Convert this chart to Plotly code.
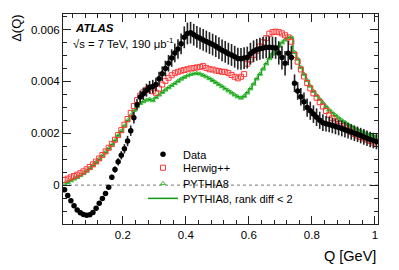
import plotly.graph_objects as go

# Bin centres (GeV)
q = [round(0.015 + 0.01 * k, 3) for k in range(100)]

data_y = [-0.00018, -0.0004, -0.0006, -0.0008, -0.00096, -0.00107, -0.00113, -0.00116, -0.00114, -0.00106,
          -0.00089, -0.0007, -0.00052, -0.00032, -0.00008, 0.0003, 0.0006, 0.0009, 0.00115, 0.0014,
          0.0017, 0.0021, 0.0026, 0.0031, 0.0034, 0.00352, 0.00366, 0.00377, 0.0038, 0.00388,
          0.0041, 0.0043, 0.0045, 0.0047, 0.0049, 0.0051, 0.00525, 0.00545, 0.0057, 0.00585,
          0.00588, 0.0058, 0.00572, 0.00566, 0.0056, 0.00554, 0.00548, 0.00542, 0.00536, 0.00528,
          0.0052, 0.00514, 0.00507, 0.00502, 0.00495, 0.00488, 0.00487, 0.0049, 0.00492, 0.00507,
          0.00516, 0.00522, 0.00526, 0.00529, 0.00531, 0.00532, 0.00531, 0.00529, 0.0051, 0.00492,
          0.0047, 0.00509, 0.00492, 0.00393, 0.00363, 0.00341, 0.00322, 0.00299, 0.00287, 0.00274,
          0.00262, 0.0025, 0.00241, 0.00237, 0.00234, 0.0023, 0.00226, 0.00222, 0.00218, 0.00214,
          0.0021, 0.00205, 0.002, 0.00196, 0.00191, 0.00186, 0.00181, 0.00176, 0.00172, 0.00168]

data_err = [0.00005] * 14 + [0.00008, 0.0001, 0.00012, 0.00014, 0.00016, 0.00018, 0.0002, 0.0002, 0.00022, 0.00022,
            0.00024, 0.00024, 0.00025, 0.00025, 0.00026, 0.00026, 0.00027, 0.00028, 0.0003, 0.00032,
            0.00034, 0.00036, 0.00038, 0.0004, 0.00042, 0.00042] + [0.00042] * 28 + \
           [0.00045, 0.00046, 0.00047, 0.00047, 0.00046, 0.00034, 0.00034, 0.00034, 0.00035, 0.00035,
            0.00035, 0.00034, 0.00034, 0.00033, 0.00032] + [0.0003] * 17

herwig_y = [0.0002, 0.00025, 0.0003, 0.00035, 0.0004, 0.00046, 0.00053, 0.00061, 0.0007, 0.0008,
            0.00091, 0.00103, 0.00116, 0.0013, 0.00144, 0.00159, 0.00175, 0.00193, 0.00212, 0.00233,
            0.00255, 0.00279, 0.00305, 0.00328, 0.00345, 0.00358, 0.00368, 0.00375, 0.00362, 0.00356,
            0.00372, 0.00388, 0.00402, 0.00414, 0.00424, 0.00432, 0.00437, 0.00441, 0.00444, 0.00447,
            0.0045, 0.00452, 0.00454, 0.00456, 0.00459, 0.00452, 0.00447, 0.00446, 0.00442, 0.0044,
            0.00437, 0.00437, 0.00432, 0.00425, 0.00418, 0.00412, 0.00418, 0.00428, 0.00468, 0.00484,
            0.00502, 0.00518, 0.00535, 0.00551, 0.00567, 0.00584, 0.0059, 0.00592, 0.0059, 0.00585,
            0.00578, 0.0057, 0.00553, 0.00502, 0.00476, 0.00446, 0.00419, 0.00394, 0.00373, 0.00354,
            0.00337, 0.0032, 0.00303, 0.00286, 0.00271, 0.00258, 0.00246, 0.00236, 0.00227, 0.00219,
            0.00211, 0.00204, 0.00197, 0.00191, 0.00185, 0.0018, 0.00175, 0.0017, 0.00164, 0.00158]

pythia_y = [0.00005, 0.0001, 0.00017, 0.00024, 0.0003, 0.00037, 0.00045, 0.00054, 0.00064, 0.00076,
            0.00088, 0.001, 0.00113, 0.00127, 0.00141, 0.00156, 0.00172, 0.0019, 0.00208, 0.00228,
            0.00248, 0.00268, 0.00288, 0.00303, 0.00315, 0.00322, 0.00328, 0.00331, 0.00326, 0.00338,
            0.00348, 0.00358, 0.00367, 0.00376, 0.00384, 0.00392, 0.00401, 0.00409, 0.00416, 0.00422,
            0.00427, 0.0043, 0.00431, 0.00429, 0.00424, 0.00418, 0.00411, 0.00404, 0.00396, 0.00388,
            0.0038, 0.00372, 0.00364, 0.00356, 0.00348, 0.00341, 0.00336, 0.00343, 0.00356, 0.00372,
            0.0039, 0.0041, 0.00428, 0.00448, 0.00468, 0.00488, 0.00506, 0.00522, 0.00536, 0.00549,
            0.0056, 0.00569, 0.0057, 0.00512, 0.00486, 0.00454, 0.00428, 0.00404, 0.00382, 0.00362,
            0.00346, 0.00331, 0.00317, 0.00303, 0.0029, 0.00279, 0.00269, 0.00259, 0.0025, 0.00242,
            0.00234, 0.00227, 0.0022, 0.00214, 0.00208, 0.00203, 0.00198, 0.00194, 0.0019, 0.00186]

x_ticks = [0.2, 0.4, 0.6, 0.8, 1.0]
x_tick_labels = ["0.2", "0.4", "0.6", "0.8", "1"]
y_ticks = [0, 0.002, 0.004, 0.006]
y_tick_labels = ["0", "0.002", "0.004", "0.006"]

FONT = "Liberation Sans, Arial, Helvetica, sans-serif"
RED = "#ff3838"
GREEN_LINE = "#119911"
GREEN_MK = "#33bb33"

fig = go.Figure()

fig.add_trace(go.Scatter(
    x=q, y=pythia_y, mode="lines", name="PYTHIA8, rank diff < 2", legend="legend4",
    line=dict(color=GREEN_LINE, width=1.5, shape="hvh")))
fig.add_trace(go.Scatter(
    x=q, y=pythia_y, mode="markers", name="PYTHIA8", legend="legend3",
    marker=dict(symbol="triangle-up-open", size=4.5, color=GREEN_MK, line=dict(width=1))))
fig.add_trace(go.Scatter(
    x=q, y=herwig_y, mode="markers", name="Herwig++", legend="legend2",
    marker=dict(symbol="square-open", size=5, color=RED, line=dict(width=1))))
fig.add_trace(go.Scatter(
    x=q, y=data_y, mode="markers", name="Data", legend="legend",
    marker=dict(symbol="circle", size=5.5, color="black"),
    error_y=dict(type="data", array=data_err, visible=True, thickness=1.6, width=0, color="#222222")))

# dotted zero line, interrupted behind the legend
fig.add_shape(type="line", xref="x", yref="y", x0=0.01, x1=1.01, y0=0, y1=0,
              line=dict(color="#777777", width=1, dash="dot"), layer="below")
fig.add_shape(type="rect", xref="paper", yref="paper", x0=0.276, x1=0.657, y0=0.12, y1=0.40,
              line=dict(width=0), fillcolor="white", layer="below")

axis_common = dict(showline=True, linecolor="#222222", linewidth=1, mirror="allticks",
                   ticks="inside", ticklen=8, tickwidth=1, tickcolor="#222222",
                   showgrid=False, zeroline=False,
                   tickfont=dict(family=FONT, size=11.5, color="black"))

fig.update_xaxes(range=[0.01, 1.01], tickvals=x_ticks, ticktext=x_tick_labels,
                 minor=dict(ticks="inside", ticklen=4, dtick=0.04, tick0=0, tickcolor="#222222"),
                 **axis_common)
fig.update_yaxes(range=[-0.0015, 0.0066], tickvals=y_ticks, ticktext=y_tick_labels,
                 minor=dict(ticks="inside", ticklen=4, dtick=0.0005, tick0=0, tickcolor="#222222"),
                 **axis_common)

fig.add_annotation(x=0.033, y=0.935, xref="paper", yref="paper", xanchor="left", yanchor="middle",
                   text="<b><i>ATLAS</i></b>", showarrow=False,
                   font=dict(family=FONT, size=11.5, color="black"))
fig.add_annotation(x=0.024, y=0.862, xref="paper", yref="paper", xanchor="left", yanchor="middle",
                   text="√s = 7 TeV, 190 μb<sup>-1</sup>", showarrow=False,
                   font=dict(family=FONT, size=11.3, color="black"))
fig.add_annotation(x=-0.148, y=0.931, xref="paper", yref="paper", xanchor="center", yanchor="middle",
                   text="Δ(Q)", textangle=-90, showarrow=False,
                   font=dict(family=FONT, size=13, color="black"))
fig.add_annotation(x=1.0, y=-0.152, xref="paper", yref="paper", xanchor="right", yanchor="middle",
                   text="Q [GeV]", showarrow=False,
                   font=dict(family=FONT, size=14.5, color="black"))

leg_common = dict(x=0.254, xanchor="left", yanchor="middle", bgcolor="rgba(0,0,0,0)",
                  borderwidth=0, font=dict(family=FONT, size=11, color="black"),
                  itemwidth=30)

fig.update_layout(
    width=391, height=262,
    margin=dict(l=55, r=21, t=6, b=46),
    paper_bgcolor="white", plot_bgcolor="white",
    showlegend=True,
    legend=dict(y=0.332, **leg_common),
    legend2=dict(y=0.268, **leg_common),
    legend3=dict(y=0.193, **leg_common),
    legend4=dict(y=0.122, **leg_common),
)

fig.write_html("out.html")
